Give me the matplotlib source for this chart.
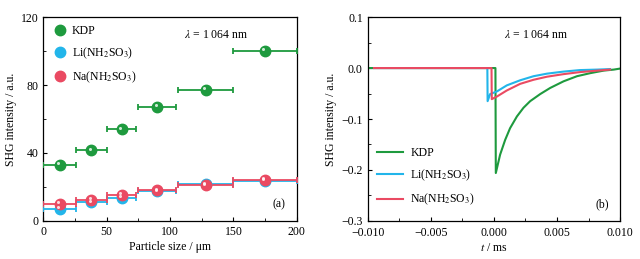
import numpy as np
import matplotlib
matplotlib.use("Agg")
import matplotlib.pyplot as plt

plt.rcParams['font.family'] = ['Liberation Serif', 'DejaVu Serif']
plt.rcParams['mathtext.fontset'] = 'stix'
plt.rcParams['font.size'] = 8.5

green = '#1e9a3e'
blue = '#22b5ea'
red = '#ea4a62'

# ---- panel (a): SHG vs particle size ----
size_mid = [13, 38, 62, 90, 128, 175]
size_lo = [0, 26, 50, 75, 106, 150]
size_hi = [26, 50, 73, 105, 150, 200]
kdp_shg = [33, 41.5, 54, 67, 77, 100]
li_shg = [7, 11, 13.5, 17.5, 21.5, 23.5]
na_shg = [10, 12.5, 15.5, 18, 21, 24]

# ---- panel (b): time traces ----
kdp_t = [-0.0100, 0.00012, 0.00015, 0.00049, 0.00089, 0.00128, 0.00182, 0.00234,
         0.00287, 0.00367, 0.00446, 0.00552, 0.00658, 0.00763, 0.0087, 0.0095, 0.0100]
kdp_v = [0.0, 0.0, -0.206, -0.170, -0.141, -0.118, -0.095, -0.078,
         -0.065, -0.051, -0.039, -0.026, -0.016, -0.010, -0.005, -0.003, -0.001]
li_t = [-0.0095, -0.00052, -0.0005, -0.0003, 0.00023, 0.00102, 0.00208, 0.00314,
        0.0042, 0.0055, 0.0068, 0.0082, 0.0092]
li_v = [0.0, 0.0, -0.065, -0.051, -0.046, -0.034, -0.024, -0.016,
        -0.011, -0.007, -0.004, -0.003, -0.002]
na_t = [-0.0095, -0.00019, -0.00017, 0.00023, 0.00102, 0.00208, 0.00314, 0.0042,
        0.0055, 0.0068, 0.0082, 0.0092]
na_v = [0.0, 0.0, -0.061, -0.056, -0.044, -0.031, -0.023, -0.017,
        -0.012, -0.008, -0.005, -0.003]

fig = plt.figure(figsize=(6.4, 2.59), dpi=100)
ax1 = fig.add_axes([0.0677, 0.147, 0.396, 0.787])
ax2 = fig.add_axes([0.5745, 0.147, 0.3945, 0.787])


def shiny(ax, x, y, color, label):
    ax.plot(x, y, 'o', color=color, ms=7.5, mec=color, zorder=4, label=label)
    ax.plot(x, y, 'o', color='white', ms=2.2, mec='none', alpha=0.8, zorder=5,
            transform=ax.transData + matplotlib.transforms.ScaledTranslation(-1.2/72, 1.2/72, fig.dpi_scale_trans))


for y, c, lab in [(kdp_shg, green, 'KDP'), (li_shg, blue, 'Li(NH$_2$SO$_3$)'),
                  (na_shg, red, 'Na(NH$_2$SO$_3$)')]:
    xm = np.array(size_mid)
    xerr = [xm - np.array(size_lo), np.array(size_hi) - xm]
    ax1.errorbar(size_mid, y, xerr=xerr, fmt='none', ecolor=c, elinewidth=1.3,
                 capsize=2.5, capthick=1.3, zorder=3)
    shiny(ax1, size_mid, y, c, lab)

ax1.set_xlim(0, 200)
ax1.set_ylim(0, 120)
ax1.set_xticks([0, 50, 100, 150, 200])
ax1.set_xticks([25, 75, 125, 175], minor=True)
ax1.set_yticks([0, 40, 80, 120])
ax1.set_yticks([20, 60, 100], minor=True)
ax1.set_xlabel('Particle size / μm', labelpad=2)
ax1.set_ylabel('SHG intensity / a.u.', labelpad=3)
ax1.text(0.68, 0.91, r'$\lambda$ = 1 064 nm', transform=ax1.transAxes, ha='center', va='center')
ax1.text(0.93, 0.08, '(a)', transform=ax1.transAxes, ha='center', va='center')
handles, labels = ax1.get_legend_handles_labels()
ax1.legend(handles, labels, loc='upper left', frameon=False, handletextpad=0.2,
           labelspacing=0.72, borderaxespad=0.3, handlelength=1.5, fontsize=8.5)

ax2.plot(kdp_t, kdp_v, color=green, lw=1.5, label='KDP', zorder=2)
ax2.plot(li_t, li_v, color=blue, lw=1.5, label='Li(NH$_2$SO$_3$)', zorder=3)
ax2.plot(na_t, na_v, color=red, lw=1.5, label='Na(NH$_2$SO$_3$)', zorder=4)
ax2.set_xlim(-0.010, 0.010)
ax2.set_ylim(-0.3, 0.1)
ax2.set_xticks([-0.010, -0.005, 0.000, 0.005, 0.010])
ax2.set_xticklabels(['−0.010', '−0.005', '0.000', '0.005', '0.010'])
ax2.set_xticks([-0.0075, -0.0025, 0.0025, 0.0075], minor=True)
ax2.set_yticks([-0.3, -0.2, -0.1, 0.0, 0.1])
ax2.set_yticklabels(['−0.3', '−0.2', '−0.1', '0.0', '0.1'])
ax2.set_yticks([-0.25, -0.15, -0.05, 0.05], minor=True)
ax2.set_xlabel('$t$ / ms', labelpad=2)
ax2.set_ylabel('SHG intensity / a.u.', labelpad=3)
ax2.text(0.667, 0.91, r'$\lambda$ = 1 064 nm', transform=ax2.transAxes, ha='center', va='center')
ax2.text(0.93, 0.08, '(b)', transform=ax2.transAxes, ha='center', va='center')
ax2.legend(loc='lower left', frameon=False, handlelength=2.2, handletextpad=0.6,
           labelspacing=0.75, borderaxespad=0.4, bbox_to_anchor=(0.0, 0.02), fontsize=8.5)

for ax in (ax1, ax2):
    ax.tick_params(which='both', direction='in', top=False, right=False)
    ax.tick_params(which='major', length=3, width=0.8, labelsize=8.5)
    ax.tick_params(which='minor', length=2, width=0.6)
    for s in ax.spines.values():
        s.set_linewidth(0.9)
ax2.tick_params(axis='x', which='major', pad=4.5)

fig.savefig('out.png', dpi=100)
